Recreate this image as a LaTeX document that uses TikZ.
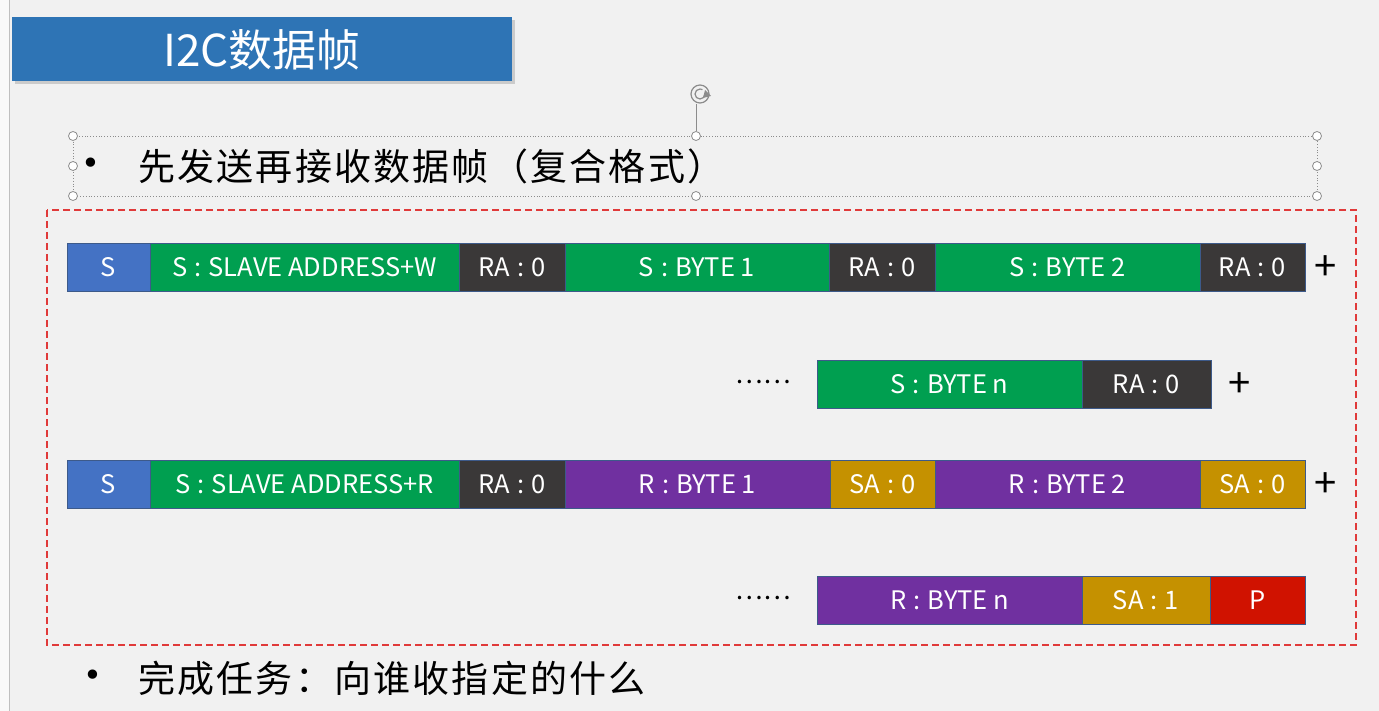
\documentclass[tikz,border=0pt]{standalone}
\usepackage{fontspec}
\setmainfont{Noto Sans CJK SC}
\newfontfamily\spacedfont[LetterSpace=6]{Noto Sans CJK SC}
\newfontfamily\dejavu{DejaVu Sans}
\newcommand{\csep}{\hspace{0.28em}:\hspace{0.28em}}
\definecolor{bg}{HTML}{F1F1F1}
\definecolor{titleblue}{HTML}{2E74B5}
\definecolor{sblue}{HTML}{4472C4}
\definecolor{cgreen}{HTML}{009F50}
\definecolor{cdark}{HTML}{3A3838}
\definecolor{cpurple}{HTML}{7030A0}
\definecolor{cgold}{HTML}{C59100}
\definecolor{cred}{HTML}{D01200}
\definecolor{cellborder}{HTML}{3D5A8A}
\definecolor{dashred}{HTML}{E03A3A}
\definecolor{handle}{HTML}{8C8C8C}
\tikzset{
  cell/.style={draw=cellborder, line width=0.8pt, anchor=west, minimum height=48pt,
    inner sep=0pt, outer sep=0pt, text=white, font=\fontsize{25.5}{28}\selectfont},
  plus/.style={font=\fontsize{40}{42}\selectfont, inner sep=0pt},
  dots/.style={font=\fontsize{26}{28}\selectfont, inner sep=0pt},
  hcirc/.style={circle, draw=handle, fill=white, line width=0.8pt, minimum size=9pt, inner sep=0pt},
  bullettext/.style={anchor=west, inner sep=0pt, font=\fontsize{37}{40}\selectfont\spacedfont},
  bulletdot/.style={inner sep=0pt, font=\fontsize{32}{34}\selectfont\dejavu}
}
\begin{document}
\begin{tikzpicture}[x=1pt,y=-1pt]
\useasboundingbox (0,0) rectangle (1379,711);
\fill[bg] (0,0) rectangle (1379,711);
\fill[white!60!bg] (0,0) rectangle (9,711);
\draw[gray!50, line width=1pt] (9.5,0) -- (9.5,711);
% title
\fill[black!30, opacity=0.6] (15,20) rectangle (515,84);
\node[fill=titleblue, anchor=north west, minimum width=500pt, minimum height=64pt, inner sep=0pt] (title) at (12,17) {};
\node[text=white, font=\fontsize{44}{48}\selectfont] (titletext) at (262,50) {I2C数据帧};
% selection box
\draw[handle, dotted, line width=0.8pt] (73,136) rectangle (1317,196);
\coordinate (rot) at (700,94);
\draw[handle, line width=0.9pt] (696,104) -- (696,131);
\draw[handle, line width=1.2pt] (rot) circle (9pt);
\draw[handle, line width=1.2pt] ([shift={(0:5)}]rot) arc (0:300:5);
\fill[handle] (705,90) -- (711,96) -- (703,98) -- cycle;
\foreach \hx/\hy [count=\i] in {73/136,696/136,1317/136,73/166,1317/166,73/196,696/196,1317/196}
  \node[hcirc] (h\i) at (\hx,\hy) {};
% bullet 1
\node[bulletdot] (b1) at (91,166) {•};
\node[bullettext] (t1) at (138,166) {先发送再接收数据帧（复合格式）};
% dashed frame
\draw[dashred, dashed, dash pattern=on 7pt off 4pt, line width=1.2pt] (47,210) rectangle (1356,645);
% row 1
\node[cell, fill=sblue, minimum width=83pt] (r1a) at (67,267) {S};
\node[cell, fill=cgreen, minimum width=309pt] (r1b) at (r1a.east) {S\csep SLAVE ADDRESS+W};
\node[cell, fill=cdark, minimum width=106pt] (r1c) at (r1b.east) {RA\csep 0};
\node[cell, fill=cgreen, minimum width=264pt] (r1d) at (r1c.east) {S\csep BYTE 1};
\node[cell, fill=cdark, minimum width=106pt] (r1e) at (r1d.east) {RA\csep 0};
\node[cell, fill=cgreen, minimum width=265pt] (r1f) at (r1e.east) {S\csep BYTE 2};
\node[cell, fill=cdark, minimum width=105pt] (r1g) at (r1f.east) {RA\csep 0};
\node[plus] (p1) at (1326,268) {+};
% row 2
\node[dots] (d2) at (763,382) {……};
\node[cell, fill=cgreen, minimum width=265pt] (r2a) at (817,384) {S\csep BYTE n};
\node[cell, fill=cdark, minimum width=129pt] (r2b) at (r2a.east) {RA\csep 0};
\node[plus] (p2) at (1240,385) {+};
% row 3
\node[cell, fill=sblue, minimum width=83pt] (r3a) at (67,484) {S};
\node[cell, fill=cgreen, minimum width=309pt] (r3b) at (r3a.east) {S\csep SLAVE ADDRESS+R};
\node[cell, fill=cdark, minimum width=106pt] (r3c) at (r3b.east) {RA\csep 0};
\node[cell, fill=cpurple, minimum width=265pt] (r3d) at (r3c.east) {R\csep BYTE 1};
\node[cell, fill=cgold, minimum width=105pt] (r3e) at (r3d.east) {SA\csep 0};
\node[cell, fill=cpurple, minimum width=265pt] (r3f) at (r3e.east) {R\csep BYTE 2};
\node[cell, fill=cgold, minimum width=105pt] (r3g) at (r3f.east) {SA\csep 0};
\node[plus] (p3) at (1326,485) {+};
% row 4
\node[dots] (d4) at (763,598) {……};
\node[cell, fill=cpurple, minimum width=265pt] (r4a) at (817,600) {R\csep BYTE n};
\node[cell, fill=cgold, minimum width=128pt] (r4b) at (r4a.east) {SA\csep 1};
\node[cell, fill=cred, minimum width=95pt] (r4c) at (r4b.east) {P};
% bullet 2
\node[bulletdot] (b2) at (93,678) {•};
\node[bullettext] (t2) at (138,678) {完成任务：向谁收指定的什么};
\end{tikzpicture}
\end{document}
